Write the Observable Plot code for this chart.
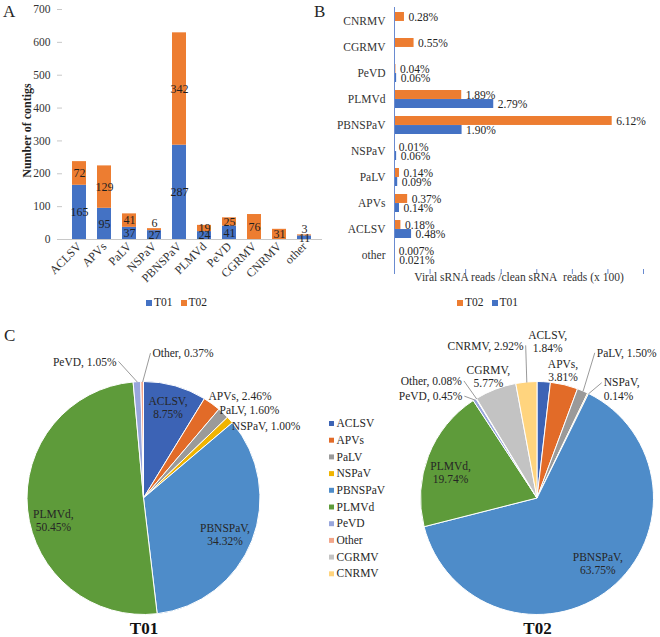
<!DOCTYPE html>
<html>
<head>
<meta charset="utf-8">
<script src="https://cdn.jsdelivr.net/npm/d3@7"></script>
<script src="https://cdn.jsdelivr.net/npm/@observablehq/plot@0.6"></script>
<style>
  body { margin: 0; background: #fff; }
  #fig { position: relative; width: 660px; height: 637px; font-family: "Liberation Serif", "Times New Roman", serif; color: #262626; overflow: hidden; }
  #fig > div, #fig > svg { position: absolute; }
  #fig svg text { font-family: "Liberation Serif", "Times New Roman", serif; }
  .tag { font-size: 17px; }
  .legend { display: flex; gap: 8px; font-size: 11.5px; align-items: center; }
  .legend span.sw { display: inline-block; width: 6px; height: 6px; margin-right: 2px; }
</style>
</head>
<body>
<div id="fig"></div>
<script>
// panel A: number of contigs
const viruses = ["ACLSV", "APVs", "PaLV", "NSPaV", "PBNSPaV", "PLMVd", "PeVD", "CGRMV", "CNRMV", "other"];
const contigsT01 = [165, 95, 37, 27, 287, 24, 41, 0, 0, 11];
const contigsT02 = [72, 129, 41, 6, 342, 19, 25, 76, 31, 3];
const yTicksA = [0, 100, 200, 300, 400, 500, 600, 700];

// panel B: viral sRNA reads / clean reads (x 100)
const readViruses = ["CNRMV", "CGRMV", "PeVD", "PLMVd", "PBNSPaV", "NSPaV", "PaLV", "APVs", "ACLSV", "other"];
const readsT02 = [0.28, 0.55, 0.04, 1.89, 6.12, 0.01, 0.14, 0.37, 0.18, 0.007];
const readsT01 = [null, null, 0.06, 2.79, 1.90, 0.06, 0.09, 0.14, 0.48, 0.021];
const xTicksB = [0, 1, 2, 3, 4, 5, 6, 7];

// panel C: share of viral reads
const pieNames = ["ACLSV", "APVs", "PaLV", "NSPaV", "PBNSPaV", "PLMVd", "PeVD", "Other", "CGRMV", "CNRMV"];
const shareT01 = [8.75, 2.46, 1.60, 1.00, 34.32, 50.45, 1.05, 0.37];
const shareT02 = [1.84, 3.81, 1.50, 0.14, 63.75, 19.74, 0.45, 0.08, 5.77, 2.92];

const seriesColors = ["#4472C4", "#ED7D31"];
const pieColors = ["#3C63B5", "#E26B28", "#9A9A9A", "#F0B400", "#4E8CC9", "#5E9B3A", "#98A6DC", "#F2A68A", "#C3C3C3", "#FFD47E"];

const fig = document.getElementById("fig");
const font = "'Liberation Serif', 'Times New Roman', serif";

function place(node, left, top) {
  node.style.left = left + "px";
  node.style.top = top + "px";
  fig.appendChild(node);
  return node;
}
function html(str) {
  const d = document.createElement("div");
  d.innerHTML = str;
  return d;
}
function legend(names, colors) {
  return html(`<div class="legend">${names.map((n, i) =>
    `<span><span class="sw" style="background:${colors[i]}"></span>${n}</span>`).join("")}</div>`).firstChild;
}

// ---------- A ----------
const tableA = [
  ...viruses.map((v, i) => ({virus: v, series: "T01", count: contigsT01[i]})),
  ...viruses.map((v, i) => ({virus: v, series: "T02", count: contigsT02[i]}))
];

const chartA = Plot.plot({
  width: 330, height: 300,
  marginLeft: 62, marginRight: 8, marginTop: 9, marginBottom: 61,
  style: {fontFamily: font, fontSize: "12px", color: "#333", background: "transparent", overflow: "visible"},
  x: {domain: viruses, paddingInner: 0.43, paddingOuter: 0.315},
  y: {domain: [0, 700]},
  color: {domain: ["T01", "T02"], range: seriesColors},
  marks: [
    Plot.barY(tableA, {x: "virus", y: "count", fill: "series"}),
    Plot.ruleY([0], {stroke: "#c8c8c8"}),
    Plot.axisY({ticks: yTicksA, tickSize: 5, tickPadding: 7, stroke: "#c8c8c8", fill: "#333", fontSize: 11.5, label: null, line: true}),
    Plot.axisX({tickRotate: -45, tickSize: 0, tickPadding: 5, fill: "#333", fontSize: 12, label: null}),
    Plot.text(tableA, Plot.stackY({
      x: "virus", y: "count",
      text: d => d.count > 0 && !(d.series === "T02" && d.count < 10) ? String(d.count) : "",
      fill: "#1f1f1f", fontSize: 12
    })),
    Plot.text(tableA, Plot.stackY2({
      x: "virus", y: "count",
      text: d => d.series === "T02" && d.count > 0 && d.count < 10 ? String(d.count) : "",
      fill: "#1f1f1f", fontSize: 12, dy: -6
    })),
    Plot.text(["Number of contigs"], {frameAnchor: "left", textAnchor: "middle", rotate: -90, dx: -35, dy: 6, fontWeight: "bold", fontSize: 12, fill: "#1f1f1f"})
  ]
});
place(chartA, 0, 0);
place(legend(["T01", "T02"], seriesColors), 146, 296);
place(html("A"), 3, 2).className = "tag";

// ---------- B ----------
const tableB = [
  ...readViruses.map((v, i) => ({virus: v, series: "T02", value: readsT02[i]})),
  ...readViruses.map((v, i) => ({virus: v, series: "T01", value: readsT01[i]}))
].filter(d => d.value != null);
const fmtPct = v => (v < 0.01 || Math.abs(v * 100 - Math.round(v * 100)) > 1e-6 ? v.toFixed(3) : v.toFixed(2)) + "%";

const hB = 310, mtB = 7, mbB = 41, padB = 0.31;
const bandB = (hB - mtB - mbB) / readViruses.length * (1 - padB);
const axisBlue = "#6A8BD0";

const chartB = Plot.plot({
  width: 330, height: hB,
  marginLeft: 64, marginRight: 17, marginTop: mtB, marginBottom: mbB,
  style: {fontFamily: font, fontSize: "11.5px", color: "#333", background: "transparent", overflow: "visible"},
  x: {domain: [0, 7]},
  y: {domain: readViruses, paddingInner: padB, paddingOuter: padB / 2},
  color: {domain: ["T01", "T02"], range: seriesColors},
  marks: [
    Plot.barX(tableB.filter(d => d.series === "T02"), {y: "virus", x: "value", fill: "series", insetBottom: bandB / 2}),
    Plot.barX(tableB.filter(d => d.series === "T01"), {y: "virus", x: "value", fill: "series", insetTop: bandB / 2}),
    Plot.text(tableB.filter(d => d.series === "T02"), {y: "virus", x: "value", text: d => fmtPct(d.value), textAnchor: "start", dx: 4, dy: -bandB / 4, fontSize: 11.5, fill: "#262626"}),
    Plot.text(tableB.filter(d => d.series === "T01"), {y: "virus", x: "value", text: d => fmtPct(d.value), textAnchor: "start", dx: 4, dy: bandB / 4, fontSize: 11.5, fill: "#262626"}),
    Plot.ruleX([0], {stroke: axisBlue}),
    Plot.axisX({ticks: xTicksB, tickFormat: () => "", tickSize: 5, stroke: axisBlue, line: true, label: null}),
    Plot.axisY({tickSize: 0, tickPadding: 9, fill: "#333", fontSize: 11.5, label: null}),
    Plot.text(["Viral sRNA reads /clean sRNA\u00a0 reads (x 100)"], {frameAnchor: "bottom", lineAnchor: "middle", dy: 8, fontSize: 11.5, fill: "#333"})
  ]
});
place(chartB, 330, 0);
place(legend(["T02", "T01"], [seriesColors[1], seriesColors[0]]), 457, 296);
place(html("B"), 314, 2).className = "tag";

// ---------- C ----------
const R = 116.5;
const pies = [
  {title: "T01", shares: shareT01, cx: 143.5, cy: 188},
  {title: "T02", shares: shareT02, cx: 537, cy: 188}
];
// label placement: angle nudge (deg), radius factor, line break, anchor, leader line
const labelLayout = {
  T01: {
    ACLSV: {a: -1, r: 0.81, br: true}, APVs: {a: 7, r: 1.21}, PaLV: {a: 6.8, r: 1.18}, NSPaV: {a: 11.3, r: 1.22},
    PBNSPaV: {a: 2.3, r: 0.76, br: true}, PLMVd: {a: -7.6, r: 0.8, br: true},
    PeVD: {a: -8.1, r: 1.2, anchor: "end", leader: true}, Other: {a: 4, r: 1.25, anchor: "start", leader: true}
  },
  T02: {
    ACLSV: {a: 0.4, r: 1.35, br: true}, APVs: {a: -2.2, r: 1.12, br: true},
    PaLV: {a: -0.9, r: 1.35, anchor: "start", leader: true}, NSPaV: {a: 5.1, r: 1.1, br: true, anchor: "start", leader: true},
    PBNSPaV: {a: -3.9, r: 0.76, br: true}, PLMVd: {a: -4.4, r: 0.78, br: true},
    PeVD: {a: -3.9, r: 1.09, anchor: "end", leader: true}, Other: {a: -1.3, r: 1.2, anchor: "end", leader: true},
    CGRMV: {a: -1, r: 1.13, br: true}, CNRMV: {a: 0.1, r: 1.32, anchor: "end", leader: true}
  }
};

const pieLabels = [];
const leaders = [];
for (const p of pies) {
  const arcs = d3.pie().sort(null).value(d => d)(p.shares);
  arcs.forEach((arc, i) => {
    const name = pieNames[i];
    const lay = labelLayout[p.title][name];
    const mid = (arc.startAngle + arc.endAngle) / 2;
    const ang = mid + lay.a * Math.PI / 180;
    const x = p.cx + lay.r * R * Math.sin(ang);
    const y = p.cy - lay.r * R * Math.cos(ang);
    const pct = p.shares[i].toFixed(2) + "%";
    pieLabels.push({x, y, anchor: lay.anchor || "middle", text: lay.br ? `${name},\n${pct}` : `${name}, ${pct}`});
    if (lay.leader) {
      leaders.push({
        x1: x + (lay.anchor === "end" ? 2 : -2), y1: lay.br ? y - 6 : y,
        x2: p.cx + R * Math.sin(mid), y2: p.cy - R * Math.cos(mid)
      });
    }
  });
}

function pieMark(p) {
  return (index, scales) => {
    const color = scales.color || d3.scaleOrdinal(pieNames, pieColors);
    const g = d3.create("svg:g").attr("transform", `translate(${p.cx},${p.cy})`);
    g.selectAll("path")
      .data(d3.pie().sort(null).value(d => d)(p.shares))
      .join("path")
      .attr("d", d3.arc().innerRadius(0).outerRadius(R))
      .attr("fill", (d, i) => color(pieNames[i]))
      .attr("stroke", "#fff")
      .attr("stroke-width", 1);
    return g.node();
  };
}

const chartC = Plot.plot({
  width: 660, height: 327, margin: 0,
  style: {fontFamily: font, fontSize: "11.5px", color: "#262626", background: "transparent", overflow: "visible"},
  x: {type: "identity", axis: null},
  y: {type: "identity", axis: null},
  color: {domain: pieNames, range: pieColors},
  marks: [
    ...pies.map(pieMark),
    Plot.link(leaders, {x1: "x1", y1: "y1", x2: "x2", y2: "y2", stroke: "#808080", strokeWidth: 0.8}),
    ...["middle", "start", "end"].map(anchor =>
      Plot.text(pieLabels.filter(d => d.anchor === anchor), {x: "x", y: "y", text: "text", textAnchor: anchor, lineHeight: 1.15, fontSize: 11.5, fill: "#262626"})),
    Plot.dot(pieNames, {x: 331, y: (d, i) => 113 + i * 16.7, fill: d => d, symbol: "square", r: 2.8}),
    Plot.text(pieNames, {x: 336, y: (d, i) => 113 + i * 16.7, text: d => d, textAnchor: "start", fontSize: 11.5, fill: "#262626"}),
    Plot.text(pies, {x: "cx", y: () => 318, text: "title", fontWeight: "bold", fontSize: 17, fill: "#111"})
  ]
});
place(chartC, 0, 310);
place(html("C"), 4, 326).className = "tag";
</script>
</body>
</html>
